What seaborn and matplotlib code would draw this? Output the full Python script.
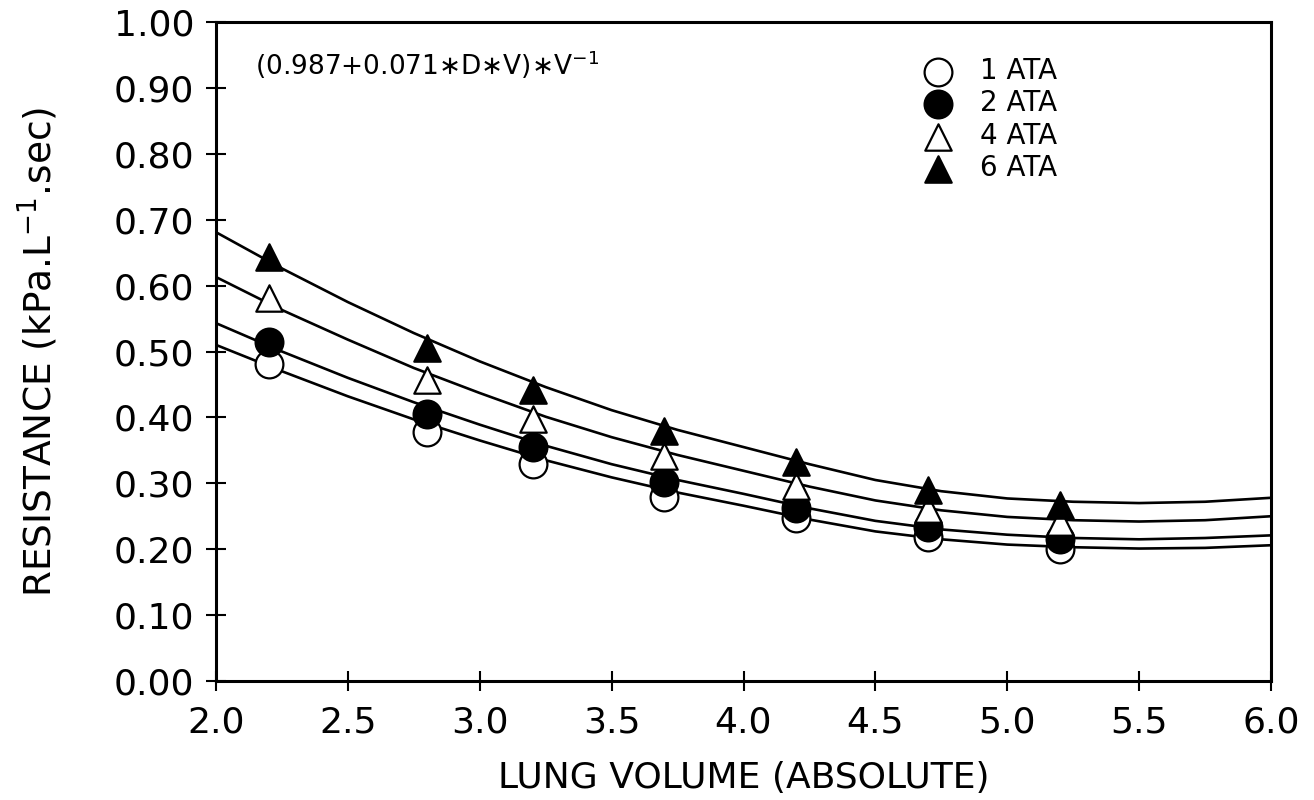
import matplotlib
matplotlib.use("Agg")
import matplotlib.pyplot as plt
import seaborn as sns

# measured airway resistance at each lung volume
volume = [2.2, 2.8, 3.2, 3.7, 4.2, 4.7, 5.2]
res_1ata = [0.481, 0.378, 0.329, 0.279, 0.248, 0.218, 0.200]
res_2ata = [0.515, 0.405, 0.355, 0.302, 0.263, 0.233, 0.215]
res_4ata = [0.581, 0.456, 0.397, 0.342, 0.296, 0.261, 0.241]
res_6ata = [0.644, 0.506, 0.442, 0.380, 0.333, 0.290, 0.267]

# fitted curves
fit_volume = [2.0, 2.25, 2.5, 2.75, 3.0, 3.25, 3.5, 3.75, 4.0, 4.25, 4.5, 4.75, 5.0, 5.25, 5.5, 5.75, 6.0]
fit_1ata = [0.510, 0.470, 0.432, 0.397, 0.365, 0.335, 0.309, 0.286, 0.266, 0.245, 0.227, 0.215, 0.207, 0.203, 0.201, 0.202, 0.206]
fit_2ata = [0.543, 0.500, 0.460, 0.423, 0.389, 0.357, 0.329, 0.305, 0.284, 0.262, 0.243, 0.230, 0.222, 0.217, 0.215, 0.217, 0.221]
fit_4ata = [0.613, 0.563, 0.518, 0.475, 0.437, 0.401, 0.370, 0.343, 0.319, 0.295, 0.274, 0.259, 0.249, 0.244, 0.242, 0.244, 0.250]
fit_6ata = [0.681, 0.626, 0.575, 0.528, 0.485, 0.446, 0.411, 0.381, 0.355, 0.329, 0.305, 0.288, 0.277, 0.272, 0.270, 0.272, 0.278]

x_ticks = [2.0, 2.5, 3.0, 3.5, 4.0, 4.5, 5.0, 5.5, 6.0]
y_ticks = [0.0, 0.1, 0.2, 0.3, 0.4, 0.5, 0.6, 0.7, 0.8, 0.9, 1.0]

sns.set_theme(style="ticks")
plt.rcParams['font.family'] = ['DejaVu Sans']

fig = plt.figure(figsize=(13.14, 8), dpi=100)
ax = fig.add_axes([216/1314, 119/800, 1055/1314, 659/800])

for fit in [fit_1ata, fit_2ata, fit_4ata, fit_6ata]:
    sns.lineplot(x=fit_volume, y=fit, color='black', linewidth=1.9, ax=ax, legend=False)

# open / filled circles and triangles, drawn above the curves
sns.scatterplot(x=volume, y=res_1ata, marker='o', s=400, facecolor='white', edgecolor='black',
                linewidth=1.6, zorder=3, ax=ax, label='1 ATA')
sns.scatterplot(x=volume, y=res_2ata, marker='o', s=400, color='black', edgecolor='black',
                linewidth=1.6, zorder=3, ax=ax, label='2 ATA')
sns.scatterplot(x=volume, y=res_4ata, marker='^', s=361, facecolor='white', edgecolor='black',
                linewidth=1.6, zorder=3, ax=ax, label='4 ATA')
sns.scatterplot(x=volume, y=res_6ata, marker='^', s=361, color='black', edgecolor='black',
                linewidth=1.6, zorder=3, ax=ax, label='6 ATA')

ax.set_xlim(2.0, 6.0)
ax.set_ylim(0.0, 1.0)
ax.set_xticks(x_ticks)
ax.set_xticklabels([f"{t:.1f}" for t in x_ticks])
ax.set_yticks(y_ticks)
ax.set_yticklabels([f"{t:.2f}" for t in y_ticks])
ax.tick_params(axis='both', direction='inout', length=15, width=1.5, colors='black',
               labelsize=26, top=False, right=False)
ax.tick_params(axis='x', pad=10)
ax.tick_params(axis='y', pad=8)

for side in ['left', 'right', 'top', 'bottom']:
    ax.spines[side].set_visible(True)
    ax.spines[side].set_color('black')
    ax.spines[side].set_linewidth(2.2)

ax.set_xlabel('LUNG VOLUME (ABSOLUTE)', fontsize=26, color='black')
ax.set_ylabel('RESISTANCE (kPa.L$^{-1}$.sec)', fontsize=27, color='black')
ax.xaxis.set_label_coords(0.5, -0.122)
ax.yaxis.set_label_coords(-0.148, 0.5)

ax.text(0.037, 0.935, '(0.987+0.071∗D∗V)∗V$^{-1}$', transform=ax.transAxes,
        fontsize=19, ha='left', va='center', color='black')

ax.legend(loc='upper left', bbox_to_anchor=(0.669, 0.947), frameon=False, fontsize=20,
          labelcolor='black', borderpad=0, handlelength=1.2, handletextpad=0.9,
          labelspacing=0.16, scatterpoints=1, borderaxespad=0)

fig.savefig('out.png', dpi=100)
